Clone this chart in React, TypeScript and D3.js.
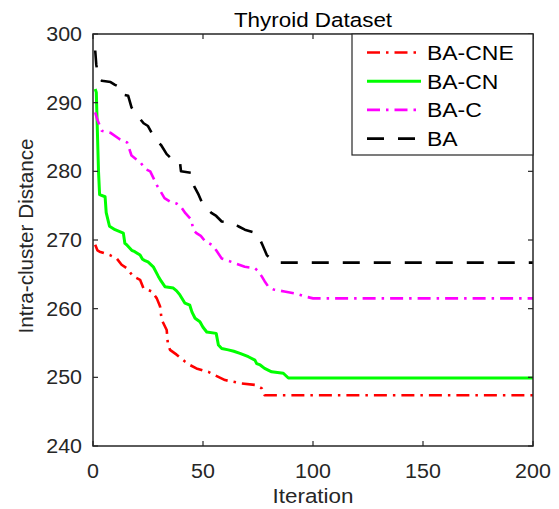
import React from "react";
import * as d3 from "d3";

const W = 559;
const H = 509;

const xTicks = [0, 50, 100, 150, 200];
const yTicks = [240, 250, 260, 270, 280, 290, 300];

const seriesNames = ["BA-CNE", "BA-CN", "BA-C", "BA"];

const baCne: [number, number][] = [
  [1, 269.3], [2, 268.5], [3, 268.3], [7.7, 267.8], [10.8, 267.3], [13, 266.4], [15.3, 265.9],
  [18.3, 264.7], [21.4, 264.2], [22.9, 263], [26.7, 262.5], [29, 261.5], [30.5, 260.3],
  [31.2, 258.4], [33.5, 256.9], [34, 255], [35, 254], [38, 253.3], [41.8, 252.3], [44, 251.8],
  [47, 251.3], [52.4, 250.8], [55.5, 250.3], [60, 249.6], [67.6, 249.1], [73.6, 248.9],
  [76.7, 248.4], [78, 247.4], [200, 247.4],
];

const baCn: [number, number][] = [
  [1, 292], [1.5, 291.5], [2.5, 280], [3, 276.6], [5.5, 276.3], [6, 274], [7.5, 272], [10, 271.5],
  [13.8, 271], [14.5, 269.5], [15.3, 269.3], [17.6, 268.5], [19, 268.3], [21.4, 267.8],
  [22.5, 267.2], [23.6, 267.0], [25, 266.8], [27.4, 266.1], [29.7, 264.7], [31, 264],
  [32.7, 263.2], [36.5, 263], [38, 262.6], [39.5, 262], [41.8, 260.8], [44, 260.5], [45, 259.5],
  [46.4, 258.6], [48.6, 258.1], [50, 257.3], [51.7, 256.6], [56, 256.4], [57, 254.7],
  [58.5, 254.2], [61.5, 254], [64, 253.8], [66.8, 253.5], [70.6, 253], [73.6, 252.5],
  [74.4, 252], [76, 251.8], [78, 251.3], [81.2, 250.8], [86.5, 250.6], [88.8, 249.9], [200, 249.9],
];

const baC: [number, number][] = [
  [1, 288.6], [2, 287.5], [4, 285.9], [8, 285.6], [12, 284.7], [15.5, 284.2], [17.5, 282.3],
  [21.5, 281.3], [24, 280.3], [26, 280.0], [29, 278], [32.5, 276.1], [35, 275.6], [38, 275.3],
  [40, 274.8], [42, 273.9], [44.8, 272.9], [45.5, 271.5], [47, 271], [49, 270.6], [51, 269.8],
  [54, 269.3], [56, 268.5], [58.5, 267.3], [63, 266.8], [69, 266.1], [73.5, 265.9], [75, 265.5],
  [76.7, 264.7], [78, 264], [79.7, 263.2], [82, 262.8], [87, 262.5], [92, 262.2], [96, 261.8],
  [100, 261.5], [200, 261.5],
];

const ba: [number, number][] = [
  [1, 297.6], [1.5, 295.5], [2.5, 293.6], [4, 293.2], [8, 293.0], [10, 292.6], [12, 292.3],
  [13, 291.2], [16, 291.0], [17.5, 289.3], [19, 288.6], [20.5, 288.0], [23, 287.0], [25, 286.6],
  [27, 285.4], [29.5, 284.3], [31, 283.8], [33.5, 282.5], [36.5, 281.6], [39.5, 281.4],
  [40, 280.0], [44.5, 279.8], [45, 278.5], [46, 277.8], [48, 276.6], [50, 275.1], [54, 273.9],
  [56, 273.5], [58.5, 272.7], [63.5, 272.5], [66, 272], [69, 271.5], [74.5, 271.0], [76, 270.0],
  [77, 269.3], [79, 267.8], [81, 267.2], [83.5, 266.8], [85, 266.7], [200, 266.7],
];

const seriesData = [baCne, baCn, baC, ba];
const seriesColors = ["#ff0000", "#00ff00", "#ff00ff", "#000000"];
const seriesDash = ["13,6,2.5,6", "none", "13,6,2.5,6", "17,14"];

const left = 93, right = 533, top = 34, bottom = 446;
const axisColor = "#262626";
const font = "Liberation Sans, Arial, sans-serif";

export default function App() {
  const x = d3.scaleLinear().domain([0, 200]).range([left, right]);
  const y = d3.scaleLinear().domain([240, 300]).range([bottom, top]);
  const line = d3.line<[number, number]>().x((d) => x(d[0])).y((d) => y(d[1]));
  const tl = 5;
  const sx = 1.1;
  const fs = 19.5;

  return (
    <svg width={W} height={H} style={{ position: "absolute", left: 0, top: 0, background: "#fff" }}>
      <rect x={0} y={0} width={W} height={H} fill="#fff" />
      {seriesData.map((d, i) => (
        <path
          key={i}
          d={line(d) || ""}
          fill="none"
          stroke={seriesColors[i]}
          strokeWidth={i === 1 ? 3 : 2.6}
          strokeDasharray={seriesDash[i]}
          strokeLinejoin="round"
        />
      ))}
      <rect x={left} y={top} width={right - left} height={bottom - top} fill="none" stroke={axisColor} strokeWidth={1.5} />
      {xTicks.map((t) => (
        <g key={"x" + t}>
          <line x1={x(t)} x2={x(t)} y1={bottom} y2={bottom - tl} stroke={axisColor} strokeWidth={1.2} />
          <line x1={x(t)} x2={x(t)} y1={top} y2={top + tl} stroke={axisColor} strokeWidth={1.2} />
          <text
            transform={`translate(${x(t)},${477.5}) scale(${sx},1)`}
            textAnchor="middle"
            fontFamily={font}
            fontSize={fs}
            fill="#262626"
          >
            {t}
          </text>
        </g>
      ))}
      {yTicks.map((t) => (
        <g key={"y" + t}>
          <line x1={left} x2={left + tl} y1={y(t)} y2={y(t)} stroke={axisColor} strokeWidth={1.2} />
          <line x1={right} x2={right - tl} y1={y(t)} y2={y(t)} stroke={axisColor} strokeWidth={1.2} />
          <text
            transform={`translate(${82},${y(t) + 7}) scale(${sx},1)`}
            textAnchor="end"
            fontFamily={font}
            fontSize={fs}
            fill="#262626"
          >
            {t}
          </text>
        </g>
      ))}
      <text
        transform={`translate(${(left + right) / 2},${27}) scale(1.15,1)`}
        textAnchor="middle"
        fontFamily={font}
        fontSize={fs}
        fill="#000"
      >
        Thyroid Dataset
      </text>
      <text
        transform={`translate(${(left + right) / 2},${503}) scale(1.15,1)`}
        textAnchor="middle"
        fontFamily={font}
        fontSize={fs}
        fill="#262626"
      >
        Iteration
      </text>
      <text
        transform={`translate(${33},${236}) rotate(-90) scale(1.06,1)`}
        textAnchor="middle"
        fontFamily={font}
        fontSize={fs}
        fill="#262626"
      >
        Intra-cluster Distance
      </text>
      <rect x={352} y={top} width={right - 352} height={155 - top} fill="#fff" stroke={axisColor} strokeWidth={1.2} />
      {seriesNames.map((n, i) => {
        const cy = 52.5 + i * 28.7;
        return (
          <g key={n}>
            <line
              x1={367}
              x2={421}
              y1={cy}
              y2={cy}
              stroke={seriesColors[i]}
              strokeWidth={i === 1 ? 3 : 2.6}
              strokeDasharray={seriesDash[i]}
            />
            <text
              transform={`translate(${427},${cy + 7.3}) scale(1.12,1)`}
              fontFamily={font}
              fontSize={20.5}
              fill="#000"
            >
              {n}
            </text>
          </g>
        );
      })}
    </svg>
  );
}
